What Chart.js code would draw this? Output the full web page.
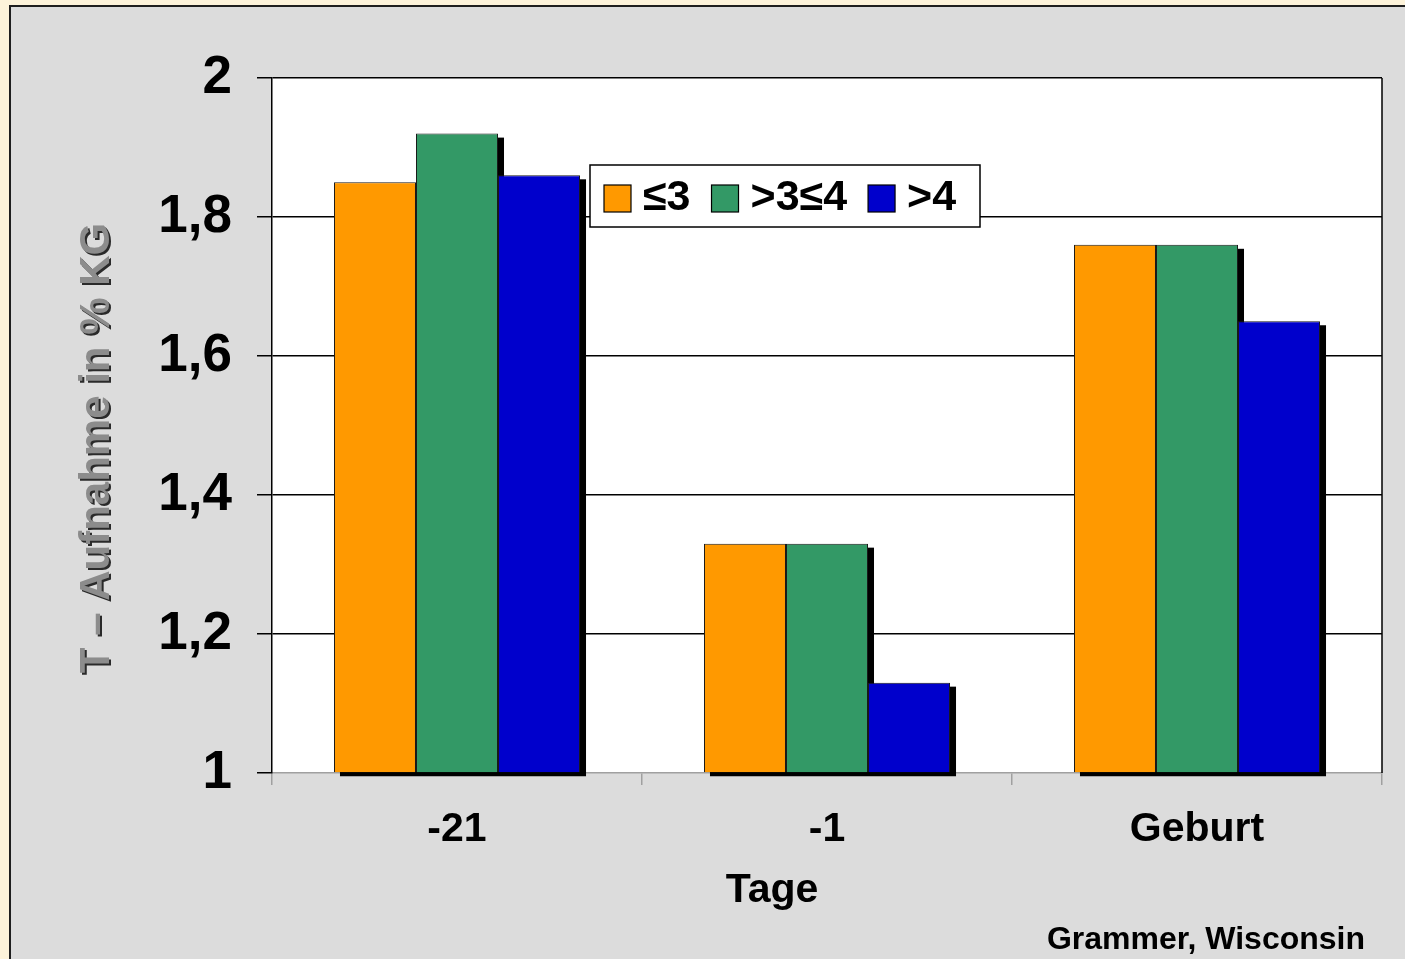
<!DOCTYPE html>
<html>
<head>
<meta charset="utf-8">
<script src="https://cdn.jsdelivr.net/npm/chart.js@4/dist/chart.umd.min.js"></script>
<style>
  html, body { margin: 0; padding: 0; background: #fdf3da; overflow: hidden; }
  #frame {
    position: absolute; left: 9px; top: 5px; width: 1420px; height: 980px;
    background: #dcdcdc; border: 2px solid #1e1e1e; box-sizing: border-box;
  }
  #wrap { position: absolute; left: 0; top: 0; width: 1405px; height: 959px; }
</style>
</head>
<body>
<div id="frame"></div>
<div id="wrap"><canvas id="c" width="1405" height="959"></canvas></div>
<script>
// Trockenmasse-Aufnahme je Gruppe (Body Condition Score) zu drei Zeitpunkten
const categories = ['-21', '-1', 'Geburt'];
const seriesNames = ['\u22643', '>3\u22644', '>4'];
const seriesLe3 = [1.85, 1.33, 1.76];
const series3to4 = [1.92, 1.33, 1.76];
const seriesGt4 = [1.86, 1.13, 1.65];
const yTickLabels = ['1', '1,2', '1,4', '1,6', '1,8', '2'];
const seriesColors = ['#ff9900', '#339966', '#0000cc'];

const FONT = '"Liberation Sans", Arial, Helvetica, sans-serif';

// White plot area behind grid and bars
const plotBackground = {
  id: 'plotBackground',
  beforeDraw(chart) {
    const a = chart.chartArea;
    const ctx = chart.ctx;
    ctx.save();
    ctx.fillStyle = '#fff';
    ctx.fillRect(a.left, a.top, a.right - a.left, a.bottom - a.top);
    ctx.restore();
  }
};

// Black drop shadow behind every bar, taken from the bar elements' own geometry
const barShadow = {
  id: 'barShadow',
  beforeDatasetsDraw(chart) {
    const ctx = chart.ctx;
    ctx.save();
    ctx.fillStyle = '#000';
    chart.data.datasets.forEach((ds, i) => {
      chart.getDatasetMeta(i).data.forEach(bar => {
        const p = bar.getProps(['x', 'y', 'base', 'width'], true);
        ctx.fillRect(p.x - p.width / 2 + 6, p.y + 4, p.width, p.base - p.y);
      });
    });
    ctx.restore();
  }
};

// Plot frame (right edge), boxed legend, axis titles and source note
const decorations = {
  id: 'decorations',
  afterDraw(chart) {
    const ctx = chart.ctx;
    const a = chart.chartArea;
    ctx.save();

    // right border of plot area
    ctx.strokeStyle = '#000';
    ctx.lineWidth = 1.5;
    ctx.beginPath();
    ctx.moveTo(a.right, a.top);
    ctx.lineTo(a.right, a.bottom);
    ctx.stroke();

    // legend box
    const lx = a.left + 318, ly = a.top + 87, lw = 390, lh = 62;
    ctx.fillStyle = '#fff';
    ctx.fillRect(lx, ly, lw, lh);
    ctx.strokeStyle = '#000';
    ctx.lineWidth = 1.5;
    ctx.strokeRect(lx, ly, lw, lh);

    ctx.font = 'bold 43px ' + FONT;
    ctx.textBaseline = 'middle';
    ctx.textAlign = 'left';
    let x = lx + 14;
    const cy = ly + 33;
    chart.data.datasets.forEach(ds => {
      ctx.fillStyle = ds.backgroundColor;
      ctx.fillRect(x, cy - 13, 27, 27);
      ctx.lineWidth = 1.2;
      ctx.strokeStyle = '#000';
      ctx.strokeRect(x, cy - 13, 27, 27);
      x += 39;
      ctx.fillStyle = '#000';
      ctx.fillText(ds.label, x, cy);
      x += ctx.measureText(ds.label).width + 21;
    });

    // x-axis title
    ctx.font = 'bold 41px ' + FONT;
    ctx.fillStyle = '#000';
    ctx.textAlign = 'center';
    ctx.textBaseline = 'alphabetic';
    ctx.fillText('Tage', 772, 902);

    // y-axis title with shadow
    ctx.save();
    ctx.translate(97, 448);
    ctx.rotate(-Math.PI / 2);
    ctx.font = 'bold 42px ' + FONT;
    ctx.textAlign = 'center';
    ctx.textBaseline = 'middle';
    ctx.shadowColor = '#2a2a2a';
    ctx.shadowOffsetX = 2;
    ctx.shadowOffsetY = 2;
    ctx.shadowBlur = 0;
    ctx.fillStyle = '#8c8c8c';
    ctx.fillText('T \u2013 Aufnahme in % KG', 0, 0);
    ctx.restore();

    // source note
    ctx.font = 'bold 32px ' + FONT;
    ctx.fillStyle = '#000';
    ctx.textAlign = 'right';
    ctx.textBaseline = 'alphabetic';
    ctx.fillText('Grammer, Wisconsin', 1365, 949);

    ctx.restore();
  }
};

const names = seriesNames;
const values = [seriesLe3, series3to4, seriesGt4];

new Chart(document.getElementById('c'), {
  type: 'bar',
  data: {
    labels: categories,
    datasets: values.map((v, i) => ({
      label: names[i],
      data: v,
      base: 1,
      backgroundColor: seriesColors[i],
      borderColor: '#1a1a1a',
      borderWidth: 1,
      categoryPercentage: 0.665,
      barPercentage: 1.0
    }))
  },
  options: {
    responsive: false,
    animation: false,
    devicePixelRatio: 1,
    layout: { padding: { left: 0, top: 78, right: 23, bottom: 0 } },
    plugins: {
      legend: { display: false },
      tooltip: { enabled: false }
    },
    scales: {
      x: {
        afterFit(s) { s.height = 186; },
        grid: {
          drawOnChartArea: false,
          color: '#a0a0a0',
          tickLength: 12,
          lineWidth: 1.5
        },
        border: { color: '#a0a0a0', width: 1.5 },
        ticks: {
          color: '#000',
          padding: 20,
          font: { family: FONT, size: 41, weight: 'bold' }
        }
      },
      y: {
        min: 1,
        max: 2,
        afterFit(s) { s.width = 272; },
        grid: {
          color: c => (c.tick && c.tick.value === 1 ? 'rgba(0,0,0,0)' : '#000'),
          tickColor: '#000',
          tickLength: 15,
          lineWidth: 1.5
        },
        border: { color: '#000', width: 1.5 },
        ticks: {
          stepSize: 0.2,
          color: '#000',
          padding: 25,
          font: { family: FONT, size: 53, weight: 'bold' },
          callback: (value, index) => yTickLabels[index]
        }
      }
    }
  },
  plugins: [plotBackground, barShadow, decorations]
});
</script>
</body>
</html>
